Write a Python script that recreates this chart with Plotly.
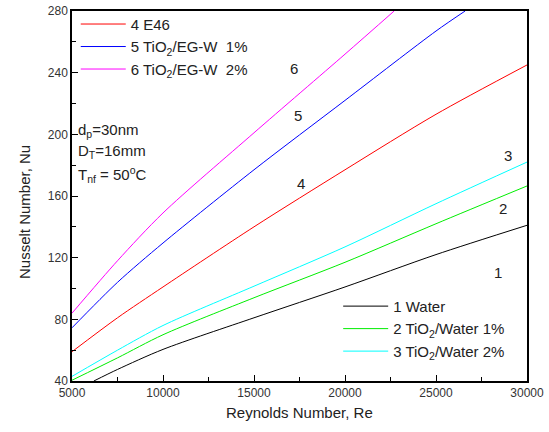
import plotly.graph_objects as go

# Reynolds number grid
re_full = [5000, 7500, 10000, 15000, 20000, 25000, 30000]

# Series values (Nusselt number)
re_water = [6200, 7500, 10000, 15000, 20000, 25000, 30000]
nu_water = [40, 47.5, 60.5, 81, 101, 122, 141]
nu_tio2_w1 = [40.5, 55, 70, 94, 117, 142, 166.5]
nu_tio2_w2 = [43, 60, 76, 101.5, 127, 155, 182]
nu_e46 = [59, 81, 101, 140, 177, 213, 245]
re_egw1 = [5000, 7500, 10000, 15000, 20000, 25000, 26600]
nu_egw1 = [74.5, 104, 129.5, 177, 222, 267, 280]
re_egw2 = [5000, 7500, 10000, 15000, 20000, 22700]
nu_egw2 = [84, 118, 149, 201, 252, 280]

x_ticks = [5000, 10000, 15000, 20000, 25000, 30000]
x_tick_text = ["5000", "10000", "15000", "20000", "25000", "30000"]
y_ticks = [40, 80, 120, 160, 200, 240, 280]

names_top = ["4 E46", "5 TiO<sub>2</sub>/EG-W  1%", "6 TiO<sub>2</sub>/EG-W  2%"]
names_bot = ["1 Water", "2 TiO<sub>2</sub>/Water 1%", "3 TiO<sub>2</sub>/Water 2%"]

# curve number labels: (Re, Nu, text)
lbl_x = [28400, 28700, 28950, 17580, 17420, 17200]
lbl_y = [110.7, 152, 186, 167.8, 211.9, 242.4]
lbl_t = ["1", "2", "3", "4", "5", "6"]

FONT = "Liberation Sans, Arial, sans-serif"
LINE_SHAPE = dict(width=1, shape="spline", smoothing=0.8)

fig = go.Figure()
fig.add_trace(go.Scatter(x=re_full, y=nu_e46, mode="lines", name=names_top[0],
                         line=dict(color="#ff0000", **LINE_SHAPE), legend="legend"))
fig.add_trace(go.Scatter(x=re_egw1, y=nu_egw1, mode="lines", name=names_top[1],
                         line=dict(color="#0000ff", **LINE_SHAPE), legend="legend"))
fig.add_trace(go.Scatter(x=re_egw2, y=nu_egw2, mode="lines", name=names_top[2],
                         line=dict(color="#ff00ff", **LINE_SHAPE), legend="legend"))
fig.add_trace(go.Scatter(x=re_water, y=nu_water, mode="lines", name=names_bot[0],
                         line=dict(color="#000000", **LINE_SHAPE), legend="legend2"))
fig.add_trace(go.Scatter(x=re_full, y=nu_tio2_w1, mode="lines", name=names_bot[1],
                         line=dict(color="#00ee00", **LINE_SHAPE), legend="legend2"))
fig.add_trace(go.Scatter(x=re_full, y=nu_tio2_w2, mode="lines", name=names_bot[2],
                         line=dict(color="#00ffff", **LINE_SHAPE), legend="legend2"))

for x, y, t in zip(lbl_x, lbl_y, lbl_t):
    fig.add_annotation(x=x, y=y, text=t, showarrow=False,
                       font=dict(family=FONT, size=15, color="#222"))

params = ["d<sub>p</sub>=30nm", "D<sub>T</sub>=16mm", "T<sub>nf</sub> = 50<sup>o</sup>C"]
params_y = [0.678, 0.62, 0.558]
for t, yy in zip(params, params_y):
    fig.add_annotation(x=0.008, y=yy, xref="paper", yref="paper", text=t,
                       showarrow=False, xanchor="left", yanchor="middle",
                       font=dict(family=FONT, size=15, color="#222"))

# axis titles
fig.add_annotation(x=0.501, y=-0.084, xref="paper", yref="paper",
                   text="Reynolds Number, Re", showarrow=False,
                   xanchor="center", yanchor="middle",
                   font=dict(family=FONT, size=15, color="#222"))
fig.add_annotation(x=-0.103, y=0.457, xref="paper", yref="paper",
                   text="Nusselt Number, Nu", showarrow=False, textangle=-90,
                   xanchor="center", yanchor="middle",
                   font=dict(family=FONT, size=15, color="#222"))

axis_common = dict(showline=True, linecolor="black", linewidth=1.5, mirror=True,
                   ticks="inside", ticklen=6, tickcolor="black", showgrid=False,
                   zeroline=False, automargin=False,
                   tickfont=dict(family=FONT, size=12, color="#333"))

fig.update_xaxes(range=[5000, 30000], tickvals=x_ticks, ticktext=x_tick_text,
                 minor=dict(ticks="inside", ticklen=4, tickcolor="black", dtick=2500, tick0=5000),
                 **axis_common)
fig.update_yaxes(range=[40, 280], tickvals=y_ticks,
                 minor=dict(ticks="inside", ticklen=4, tickcolor="black", dtick=20, tick0=40),
                 **axis_common)

fig.update_layout(
    width=549, height=432,
    margin=dict(l=72, r=22, t=11, b=51, autoexpand=False),
    plot_bgcolor="white", paper_bgcolor="white",
    font=dict(family=FONT, size=15, color="#222"),
    legend=dict(x=0.138, y=0.982, xref="container", yref="container",
                xanchor="left", yanchor="top", bgcolor="rgba(0,0,0,0)",
                font=dict(family=FONT, size=15, color="#222"), tracegroupgap=0,
                itemwidth=45),
    legend2=dict(x=0.616, y=0.329, xref="container", yref="container",
                 xanchor="left", yanchor="top", bgcolor="rgba(0,0,0,0)",
                 font=dict(family=FONT, size=15, color="#222"), itemwidth=45),
)

fig.write_html("out.html")
